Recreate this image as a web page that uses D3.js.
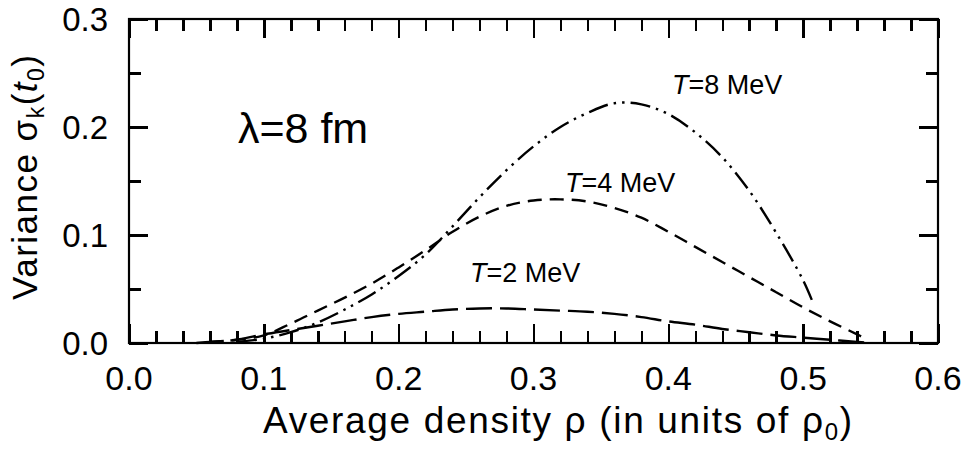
<!DOCTYPE html>
<html>
<head>
<meta charset="utf-8">
<script src="https://cdn.jsdelivr.net/npm/d3@7"></script>
<style>
  html, body { margin: 0; padding: 0; background: #fff; }
  svg { display: block; font-family: "Liberation Sans", Arial, Helvetica, sans-serif; }
</style>
</head>
<body>
<svg id="chart" width="967" height="450"></svg>
<script>
// ---- data ----
const t2Rho = [0.05,0.06,0.08,0.10,0.12,0.14,0.16,0.18,0.20,0.22,0.24,0.26,0.28,0.30,0.32,0.34,0.36,0.38,0.40,0.42,0.44,0.46,0.48,0.50,0.52,0.54,0.55];
const t2Var = [0.000,0.001,0.003,0.008,0.012,0.016,0.020,0.024,0.027,0.029,0.031,0.032,0.032,0.031,0.030,0.029,0.027,0.024,0.020,0.017,0.013,0.010,0.007,0.005,0.003,0.001,0.000];

const t4Rho = [0.06,0.08,0.10,0.12,0.14,0.16,0.18,0.20,0.22,0.24,0.26,0.28,0.30,0.32,0.34,0.36,0.38,0.40,0.42,0.44,0.46,0.48,0.50,0.52,0.54,0.548];
const t4Var = [0.001,0.003,0.007,0.018,0.030,0.042,0.055,0.070,0.086,0.103,0.117,0.127,0.132,0.133,0.131,0.125,0.116,0.103,0.089,0.075,0.061,0.047,0.033,0.020,0.008,0.003];

const t8Rho = [0.08,0.10,0.12,0.14,0.16,0.18,0.20,0.22,0.24,0.26,0.28,0.30,0.32,0.34,0.36,0.38,0.40,0.42,0.44,0.46,0.48,0.50,0.508];
const t8Var = [0.001,0.004,0.010,0.019,0.031,0.045,0.062,0.082,0.108,0.135,0.160,0.182,0.200,0.213,0.222,0.221,0.212,0.195,0.172,0.141,0.102,0.058,0.035];

const xMajorTicks = [0.0,0.1,0.2,0.3,0.4,0.5,0.6];
const xMinorTicks = [0.02,0.04,0.06,0.08,0.12,0.14,0.16,0.18,0.22,0.24,0.26,0.28,0.32,0.34,0.36,0.38,0.42,0.44,0.46,0.48,0.52,0.54,0.56,0.58];
const yMajorTicks = [0.0,0.1,0.2,0.3];
const yMinorTicks = [0.05,0.15,0.25];

const seriesNames = ["T=2 MeV","T=4 MeV","T=8 MeV"];
const labelRho = [0.2529, 0.3234, 0.4027];
const labelVar = [0.0565, 0.1398, 0.2306];

// ---- layout ----
const svg = d3.select("#chart");
const x = d3.scaleLinear().domain([0, 0.6]).range([129, 938]);
const y = d3.scaleLinear().domain([0, 0.3]).range([343, 19]);
const fmt = d3.format(".1f");
const majorLen = 19, minorLen = 12;

// frame
svg.append("rect")
  .attr("x", x(0)).attr("y", y(0.3))
  .attr("width", x(0.6) - x(0)).attr("height", y(0) - y(0.3))
  .attr("fill", "none").attr("stroke", "#000").attr("stroke-width", 2.2);

// inward ticks on all four sides, via d3 axes
function styleTicks(g) {
  g.select(".domain").remove();
  g.selectAll(".tick line")
    .attr("stroke", "#000")
    .attr("stroke-width", 2.5)
    .attr("shape-rendering", "crispEdges");
  g.selectAll(".tick text").remove();
}
const axes = [
  [d3.axisBottom, x, xMajorTicks, majorLen, `translate(0,${y(0)})`],
  [d3.axisBottom, x, xMinorTicks, minorLen, `translate(0,${y(0)})`],
  [d3.axisTop, x, xMajorTicks, majorLen, `translate(0,${y(0.3)})`],
  [d3.axisTop, x, xMinorTicks, minorLen, `translate(0,${y(0.3)})`],
  [d3.axisLeft, y, yMajorTicks, majorLen, `translate(${x(0)},0)`],
  [d3.axisLeft, y, yMinorTicks, minorLen, `translate(${x(0)},0)`],
  [d3.axisRight, y, yMajorTicks, majorLen, `translate(${x(0.6)},0)`],
  [d3.axisRight, y, yMinorTicks, minorLen, `translate(${x(0.6)},0)`]
];
axes.forEach(([fn, sc, vals, len, tr]) => {
  svg.append("g").attr("transform", tr)
    .call(fn(sc).tickValues(vals).tickSizeInner(-len).tickSizeOuter(0))
    .call(styleTicks);
});

// tick labels
svg.append("g").selectAll("text").data(xMajorTicks).join("text")
  .attr("x", d => x(d)).attr("y", 390)
  .attr("text-anchor", "middle").attr("font-size", 34).attr("fill", "#000")
  .text(d => fmt(d));
svg.append("g").selectAll("text").data(yMajorTicks).join("text")
  .attr("x", 108).attr("y", d => y(d) + 12)
  .attr("text-anchor", "end").attr("font-size", 33).attr("fill", "#000")
  .text(d => fmt(d));

// curves
const line = d3.line().x(d => x(d[0])).y(d => y(d[1])).curve(d3.curveCatmullRom.alpha(0.5));
const series = [
  { rho: t2Rho, v: t2Var, dash: "26,8" },
  { rho: t4Rho, v: t4Var, dash: "14,8" },
  { rho: t8Rho, v: t8Var, dash: "20,6,2.5,6,2.5,6" }
];
series.forEach(s => {
  svg.append("path")
    .datum(s.rho.map((r, i) => [r, s.v[i]]))
    .attr("d", line)
    .attr("fill", "none")
    .attr("stroke", "#000")
    .attr("stroke-width", 2.4)
    .attr("stroke-dasharray", s.dash);
});

// curve labels
seriesNames.forEach((name, i) => {
  const parts = name.split("=");
  const t = svg.append("text")
    .attr("x", x(labelRho[i])).attr("y", y(labelVar[i]))
    .attr("font-size", 27).attr("fill", "#000");
  t.append("tspan").attr("font-style", "italic").text(parts[0]);
  t.append("tspan").text("=" + parts[1]);
});

// lambda label
svg.append("text")
  .attr("x", x(0.0808)).attr("y", y(0.1852))
  .attr("font-size", 43).attr("fill", "#000")
  .text("λ=8 fm");

// x axis title
const xtt = svg.append("text")
  .attr("x", 263).attr("y", 433)
  .attr("font-size", 37).attr("fill", "#000")
  .attr("textLength", 589).attr("lengthAdjust", "spacing");
xtt.append("tspan").text("Average density ρ (in units of ρ");
xtt.append("tspan").attr("font-size", 24).attr("dy", 7).text("0");
xtt.append("tspan").attr("dy", -7).text(")");

// y axis title
const ytt = svg.append("text")
  .attr("transform", "translate(37,300) rotate(-90)")
  .attr("font-size", 35).attr("fill", "#000")
  .attr("textLength", 245).attr("lengthAdjust", "spacing");
ytt.append("tspan").text("Variance σ");
ytt.append("tspan").attr("font-size", 23).attr("dy", 7).text("k");
ytt.append("tspan").attr("dy", -7).text("(");
ytt.append("tspan").attr("font-style", "italic").text("t");
ytt.append("tspan").attr("font-size", 23).attr("dy", 7).text("0");
ytt.append("tspan").attr("dy", -7).text(")");
</script>
</body>
</html>
